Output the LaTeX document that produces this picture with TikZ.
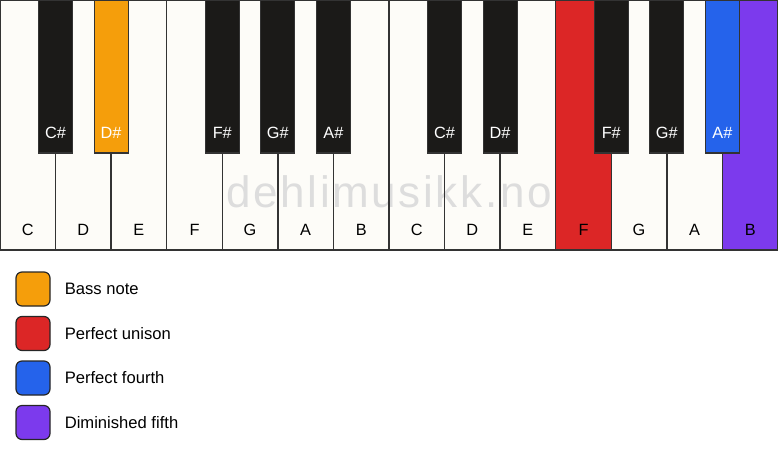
\documentclass[tikz,border=0pt]{standalone}
\usepackage{fontspec}
\setmainfont{Liberation Sans}
\usetikzlibrary{positioning}
\definecolor{keywhite}{HTML}{FDFCF8}
\definecolor{keyblack}{HTML}{1B1A18}
\definecolor{keyline}{HTML}{333333}
\definecolor{bassnote}{HTML}{F59E0B}
\definecolor{unison}{HTML}{DC2626}
\definecolor{fourth}{HTML}{2563EB}
\definecolor{dimfifth}{HTML}{7C3AED}
\definecolor{watermark}{HTML}{DDDDDD}
\begin{document}
\begin{tikzpicture}[x=1pt,y=-1pt]
% Configurable parameters
\def\ww{55.571}	% width of a white key
\def\wh{250}	% height of a white key
\def\bw{34}	% width of a black key
\def\bh{153}	% height of a black key

% Styles
\tikzstyle{white key}=[draw=keyline,line width=1.3pt]
\tikzstyle{black key}=[draw=keyline,line width=1.2pt]
\tikzstyle{white label}=[font=\fontsize{16.3}{19}\selectfont,text=black]
\tikzstyle{black label}=[font=\fontsize{16.3}{19}\selectfont,text=white]
\tikzstyle{legend box}=[draw=black!85,line width=1.2pt,rounded corners=6pt,minimum size=34pt,inner sep=0pt]
\tikzstyle{legend text}=[font=\fontsize{16.6}{19}\selectfont,inner sep=0pt]

\useasboundingbox (0,0) rectangle (778,461);

% White keys, filled first so the watermark sits under the outlines.
\foreach \n/\col [count=\i from 0] in {C/keywhite,D/keywhite,E/keywhite,F/keywhite,G/keywhite,A/keywhite,B/keywhite,C/keywhite,D/keywhite,E/keywhite,F/unison,G/keywhite,A/keywhite,B/dimfifth}
  \fill[\col] (\i*\ww,0) rectangle ++(\ww,\wh);

% Watermark
\node[font=\fontsize{44}{50}\selectfont\addfontfeature{LetterSpace=6},text=watermark,anchor=base,inner sep=0pt] (mark) at (389,207) {dehlimusikk.no};

% Outlines and names of the white keys
\foreach \n [count=\i from 0] in {C,D,E,F,G,A,B,C,D,E,F,G,A,B} {
  \draw[white key] (\i*\ww,0) rectangle ++(\ww,\wh);
  \node[white label] (w\i) at (\i*\ww+\ww/2,230) {\n};
}

% Black keys, centred on the white key borders
\foreach \k/\n/\col in {1/C\#/keyblack,2/D\#/bassnote,4/F\#/keyblack,5/G\#/keyblack,6/A\#/keyblack,8/C\#/keyblack,9/D\#/keyblack,11/F\#/keyblack,12/G\#/keyblack,13/A\#/fourth} {
  \draw[black key,fill=\col] (\k*\ww-\bw/2,0) rectangle ++(\bw,\bh);
  \node[black label] (b\k) at (\k*\ww,133) {\n};
}

% Legend
\node[legend box,fill=bassnote] (lb1) at (33,289) {};
\node[legend box,fill=unison] (lb2) at (33,333.5) {};
\node[legend box,fill=fourth] (lb3) at (33,378) {};
\node[legend box,fill=dimfifth] (lb4) at (33,422.5) {};
\node[legend text,right=14pt of lb1] (lt1) {Bass note};
\node[legend text,right=14pt of lb2] (lt2) {Perfect unison};
\node[legend text,right=14pt of lb3] (lt3) {Perfect fourth};
\node[legend text,right=14pt of lb4] (lt4) {Diminished fifth};
\end{tikzpicture}
\end{document}
